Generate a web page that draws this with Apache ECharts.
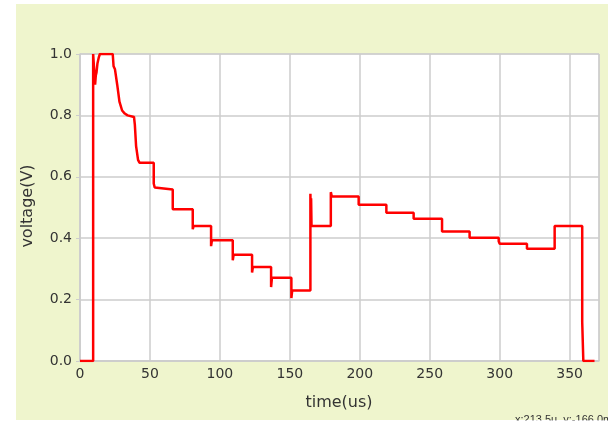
<!DOCTYPE html>
<html>
<head>
<meta charset="utf-8">
<script src="https://cdn.jsdelivr.net/npm/echarts@6/dist/echarts.min.js"></script>
<style>
  html, body { margin: 0; padding: 0; background: #fff; }
  #main { width: 608px; height: 422px; }
</style>
</head>
<body>
<div id="main"></div>
<script>
// time (us) and voltage (V)
var times = [
    0, 9.4, 9.4, 10.8, 10.8, 11.3, 11.8, 12.5, 13.5, 14.2, 23.4,
    24.0, 25.0, 26.6, 28.2, 30.1, 32.0, 34.0, 38.6, 39.2, 40.1, 41.5, 42.5,
    52.7, 52.7, 53.4, 54.0, 66.3, 66.3, 80.6, 80.6, 81.2,
    93.7, 93.7, 94.3, 109.2, 109.2, 109.8, 123.0, 123.0, 123.6,
    136.6, 136.6, 137.2, 151.1, 151.1, 151.7, 164.7, 164.7, 165.0, 165.2, 165.5,
    179.3, 179.3, 180.0, 199.2, 199.2, 219.0, 219.0, 238.5, 238.5,
    258.8, 258.8, 278.5, 278.5, 299.3, 299.3, 300.0, 319.5, 319.5,
    339.3, 339.3, 359.0, 359.0, 359.8, 359.8, 367.8
];
var volts = [
    0, 0, 1.0, 1.0, 0.90, 0.93, 0.94, 0.97, 0.99, 1.0, 1.0,
    0.96, 0.95, 0.90, 0.845, 0.816, 0.806, 0.800, 0.795, 0.77, 0.70, 0.655, 0.646,
    0.646, 0.578, 0.565, 0.559, 0.559, 0.494, 0.494, 0.429, 0.44,
    0.44, 0.374, 0.393, 0.393, 0.328, 0.346, 0.346, 0.288, 0.306,
    0.306, 0.241, 0.271, 0.271, 0.205, 0.230, 0.230, 0.545, 0.46, 0.53, 0.44,
    0.44, 0.55, 0.536, 0.536, 0.509, 0.509, 0.483, 0.483, 0.4635,
    0.4635, 0.422, 0.422, 0.4015, 0.4015, 0.39, 0.382, 0.382, 0.366,
    0.366, 0.44, 0.44, 0.127, 0.127, 0, 0
];
var cursorText = 'x:213.5u, y:-166.0m';

var chart = echarts.init(document.getElementById('main'));
var font = 'DejaVu Sans';

chart.setOption({
    backgroundColor: '#fff',
    animation: false,
    graphic: [
        { type: 'rect', z: -10, shape: { x: 16, y: 4, width: 592, height: 416 }, style: { fill: '#eff5cd' } },
        { type: 'text', x: 28, y: 206, rotation: Math.PI / 2,
          style: { text: 'voltage(V)', font: '16px ' + font, fill: '#333', align: 'center', verticalAlign: 'middle' } },
        { type: 'text', x: 339, y: 403,
          style: { text: 'time(us)', font: '16px ' + font, fill: '#333', align: 'center', verticalAlign: 'middle' } },
        { type: 'text', x: 515, y: 414,
          style: { text: cursorText, font: '11px "Liberation Sans"', fill: '#333', align: 'left', verticalAlign: 'top' } },
        { type: 'rect', z: 100, shape: { x: 0, y: 420.5, width: 608, height: 2 }, style: { fill: '#fff' } }
    ],
    grid: {
        left: 80, top: 54, right: 9, bottom: 61,
        show: true, backgroundColor: '#fff', borderColor: '#cccccc', borderWidth: 1
    },
    xAxis: {
        type: 'value', min: 0, max: 371, interval: 50,
        axisLine: { lineStyle: { color: '#cccccc', width: 1.5 } },
        axisTick: { show: false },
        splitLine: { lineStyle: { color: '#cccccc', width: 1.5 } },
        axisLabel: { color: '#333', fontFamily: font, fontSize: 14, margin: 6, showMaxLabel: false }
    },
    yAxis: {
        type: 'value', min: 0, max: 1, interval: 0.2,
        axisLine: { show: true, lineStyle: { color: '#cccccc', width: 1.5 } },
        axisTick: { show: true, length: 4, lineStyle: { color: '#cccccc' } },
        splitLine: { lineStyle: { color: '#cccccc', width: 1.5 } },
        axisLabel: { color: '#333', fontFamily: font, fontSize: 14, margin: 8,
            formatter: function (v) { return v.toFixed(1); } }
    },
    series: [{
        type: 'line',
        data: times.map(function (t, i) { return [t, volts[i]]; }),
        showSymbol: false,
        clip: true,
        lineStyle: { color: '#ff0000', width: 2.5 }
    }]
});
</script>
</body>
</html>
